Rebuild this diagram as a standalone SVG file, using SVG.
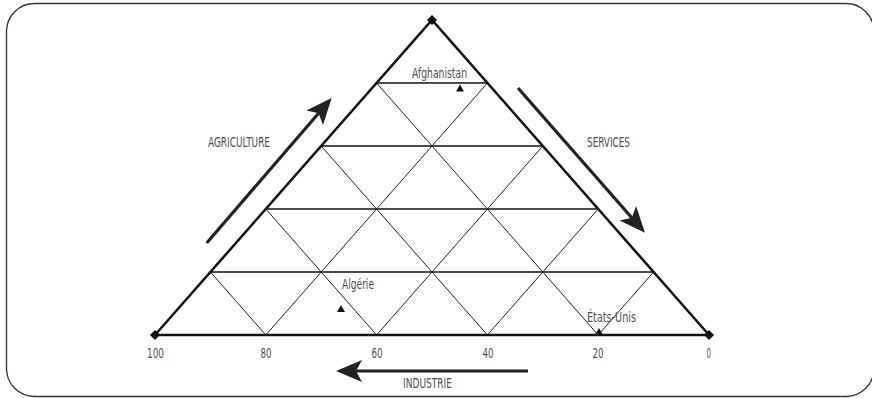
<svg xmlns="http://www.w3.org/2000/svg" width="872" height="398" viewBox="0 0 872 398">
<defs>
<style>
.frame{fill:#fff;stroke:#333;stroke-width:1.3}
.edge{fill:none;stroke:#111;stroke-width:2.5;stroke-linejoin:miter}
.hgrid{stroke:#111;stroke-width:1.3}
.dgrid{stroke:#222;stroke-width:1}
.shaft{fill:none;stroke:#222;stroke-width:3.2}
.lbl{font-family:"DejaVu Sans Condensed","Liberation Sans Narrow","Liberation Sans",sans-serif;font-size:14.5px;fill:#4d4d4d}
.mk{fill:#111}
</style>
<marker id="ah" viewBox="-27 -12 28 24" markerUnits="userSpaceOnUse" markerWidth="28" markerHeight="24" refX="-20" refY="0" orient="auto">
<path d="M0,0 L-26,-11 L-20,0 L-26,11 Z" fill="#222"/>
</marker>
</defs>
<rect class="frame" x="6.5" y="3.5" width="867.5" height="393" rx="28" ry="28"/>
<g id="grid">
<line class="hgrid" x1="210.4" y1="272" x2="653.6" y2="272"/>
<line class="hgrid" x1="265.8" y1="209" x2="598.2" y2="209"/>
<line class="hgrid" x1="321.2" y1="146" x2="542.8" y2="146"/>
<line class="hgrid" x1="376.6" y1="83" x2="487.4" y2="83"/>
<line class="dgrid" x1="210.4" y1="272" x2="265.8" y2="335"/>
<line class="dgrid" x1="265.8" y1="209" x2="376.6" y2="335"/>
<line class="dgrid" x1="321.2" y1="146" x2="487.4" y2="335"/>
<line class="dgrid" x1="376.6" y1="83" x2="598.2" y2="335"/>
<line class="dgrid" x1="653.6" y1="272" x2="598.2" y2="335"/>
<line class="dgrid" x1="598.2" y1="209" x2="487.4" y2="335"/>
<line class="dgrid" x1="542.8" y1="146" x2="376.6" y2="335"/>
<line class="dgrid" x1="487.4" y1="83" x2="265.8" y2="335"/>
</g>
<g id="triangle">
<polygon class="edge" points="155,335 432,20 709,335"/>
<polygon class="mk" points="155,330 160,335 155,340 150,335"/>
<polygon class="mk" points="432,15 437,20 432,25 427,20"/>
<polygon class="mk" points="709,330 714,335 709,340 704,335"/>
</g>
<g id="connectors">
<line class="shaft" x1="206.7" y1="243" x2="318.6" y2="113.2" marker-end="url(#ah)"/>
<line class="shaft" x1="518" y1="88" x2="631.8" y2="217.7" marker-end="url(#ah)"/>
<line class="shaft" x1="528" y1="371" x2="356" y2="371" marker-end="url(#ah)"/>
</g>
<g id="axis-labels">
<text class="lbl" x="208" y="146.5" textLength="62" lengthAdjust="spacingAndGlyphs">AGRICULTURE</text>
<text class="lbl" x="587" y="146.5" textLength="43" lengthAdjust="spacingAndGlyphs">SERVICES</text>
<text class="lbl" x="403" y="387.5" textLength="49" lengthAdjust="spacingAndGlyphs">INDUSTRIE</text>
<text class="lbl" x="147" y="357.5" textLength="17" lengthAdjust="spacingAndGlyphs">100</text>
<text class="lbl" x="260.5" y="357.5" textLength="11" lengthAdjust="spacingAndGlyphs">80</text>
<text class="lbl" x="371.5" y="357.5" textLength="11" lengthAdjust="spacingAndGlyphs">60</text>
<text class="lbl" x="482.5" y="357.5" textLength="11" lengthAdjust="spacingAndGlyphs">40</text>
<text class="lbl" x="592.5" y="357.5" textLength="11" lengthAdjust="spacingAndGlyphs">20</text>
<text class="lbl" x="706.5" y="357.5" textLength="4.5" lengthAdjust="spacingAndGlyphs">0</text>
</g>
<g id="afghanistan">
<text class="lbl" x="412" y="77.5" textLength="55" lengthAdjust="spacingAndGlyphs">Afghanistan</text>
<polygon class="mk" points="460,84.5 464,91.5 456,91.5"/>
</g>
<g id="algerie">
<text class="lbl" x="342" y="288.5" textLength="32" lengthAdjust="spacingAndGlyphs">Algérie</text>
<polygon class="mk" points="341,305 345,312 337,312"/>
</g>
<g id="etats-unis">
<text class="lbl" x="587" y="322" textLength="49" lengthAdjust="spacingAndGlyphs">États-Unis</text>
<polygon class="mk" points="599,328 603,335 595,335"/>
</g>
</svg>
